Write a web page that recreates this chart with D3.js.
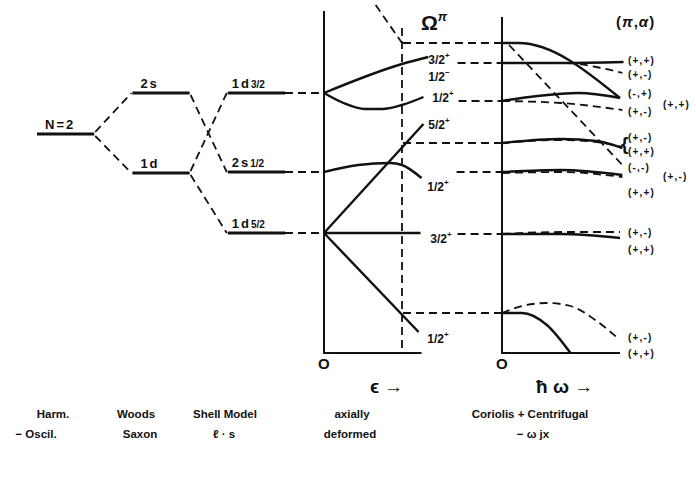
<!DOCTYPE html>
<html lang="en">
<head>
<meta charset="UTF-8">
<title>Nilsson + cranking levels, N=2</title>
<script src="https://d3js.org/d3.v7.min.js"></script>
<style>
  body { margin: 0; background: #fff; }
  svg { display: block; }
  text { font-family: "Liberation Sans", Arial, sans-serif; font-weight: bold; fill: #111; }
  .level { stroke: #111; stroke-width: 3; }
  .axis { stroke: #111; stroke-width: 2; fill: none; }
  .dash { stroke: #111; stroke-width: 1.8; stroke-dasharray: 8,5; fill: none; }
  .curve { stroke: #111; stroke-width: 2.4; fill: none; }
</style>
</head>
<body>
<svg id="chart" width="696" height="478"></svg>
<script>
// energies in arbitrary units (0 = bottom of the diagram)
const stages = ["ho", "ws", "ls"];
const shellLevels = [
  { stage: "ho", name: "N=2", sub: "", E: 21.9 },
  { stage: "ws", name: "2s", sub: "", E: 26.0 },
  { stage: "ws", name: "1d", sub: "", E: 18.0 },
  { stage: "ls", name: "1d", sub: "3/2", E: 26.0 },
  { stage: "ls", name: "2s", sub: "1/2", E: 18.1 },
  { stage: "ls", name: "1d", sub: "5/2", E: 12.0 }
];
// dashed links between levels [from, to]
const shellLinks = [[0, 1], [0, 2], [1, 4], [2, 3], [2, 5]];

// Nilsson levels vs deformation eps
const nilsson = [
  { omega: "3/2", parity: "+", pts: [[0, 26.0], [0.8, 28.9], [1.07, 29.6]] },
  { omega: "1/2", parity: "+", pts: [[0, 26.0], [0.2, 25.0], [0.42, 24.4], [0.6, 24.4], [0.8, 24.8], [1.02, 25.6]] },
  { omega: "1/2", parity: "+", pts: [[0, 18.1], [0.35, 18.8], [0.68, 19.0], [0.8, 18.8], [1.0, 17.5]] },
  { omega: "5/2", parity: "+", pts: [[0, 12.0], [1.02, 22.9]] },
  { omega: "3/2", parity: "+", pts: [[0, 12.0], [0.99, 12.0]] },
  { omega: "1/2", parity: "+", pts: [[0, 12.0], [0.97, 2.1]] }
];
// intruder 1/2- from above (dashed)
const intruder = [[0.53, 34.8], [0.8, 31.0]];
const epsChosen = 0.8;

// labels next to the Nilsson curves
const nilssonLabels = [
  { omega: "3/2", parity: "+", eps: 1.07, E: 29.4 },
  { omega: "1/2", parity: "−", eps: 1.07, E: 27.7 },
  { omega: "1/2", parity: "+", eps: 1.11, E: 25.6 },
  { omega: "5/2", parity: "+", eps: 1.07, E: 22.9 },
  { omega: "1/2", parity: "+", eps: 1.06, E: 16.7 },
  { omega: "3/2", parity: "+", eps: 1.09, E: 11.5 },
  { omega: "1/2", parity: "+", eps: 1.06, E: 1.5 }
];
// dashed connectors at eps = 0.8 into the cranking panel [E, start eps]
const connectors = [[31.0, 0.81], [29.0, 1.37], [25.2, 1.38], [21.0, 0.81], [18.1, 1.36], [11.9, 1.37], [4.0, 0.81]];

// cranking levels vs rotational frequency (alpha = + solid, alpha = - dashed)
const cranking = [
  { dashed: false, pts: [[0, 31.0], [0.14, 31.0], [1.0, 25.5]] },
  { dashed: true, pts: [[0.06, 30.8], [1.02, 18.8]] },
  { dashed: false, pts: [[0, 29.0], [0.5, 29.0], [1.03, 29.1]] },
  { dashed: true, pts: [[0, 29.0], [0.55, 29.0], [0.8, 28.6], [1.02, 28.0]] },
  { dashed: false, pts: [[0, 25.2], [0.3, 25.7], [0.65, 26.0], [1.0, 25.5]] },
  { dashed: true, pts: [[0, 25.2], [0.5, 25.0], [1.02, 24.3]] },
  { dashed: false, pts: [[0, 21.0], [0.5, 21.4], [0.8, 21.2], [1.02, 20.5]] },
  { dashed: true, pts: [[0, 21.0], [0.5, 21.3], [0.8, 21.1], [1.02, 20.6]] },
  { dashed: false, pts: [[0, 18.1], [0.5, 18.3], [1.02, 17.8]] },
  { dashed: true, pts: [[0, 18.0], [0.5, 18.1], [1.02, 17.6]] },
  { dashed: false, pts: [[0, 11.9], [0.5, 11.9], [1.0, 11.5]] },
  { dashed: true, pts: [[0, 11.9], [0.5, 12.1], [1.0, 12.1]] },
  { dashed: false, pts: [[0, 4.0], [0.17, 4.0], [0.38, 2.8], [0.58, 0.0]] },
  { dashed: true, pts: [[0, 4.0], [0.17, 4.7], [0.38, 5.0], [0.58, 4.7], [0.79, 3.3], [0.98, 1.5]] }
];
// (pi, alpha) labels: [text, E, column]
const crankLabels = [
  ["(+,+)", 29.3, 0], ["(+,-)", 27.9, 0], ["(-,+)", 26.0, 0], ["(+,-)", 24.2, 0], ["(+,+)", 24.9, 1],
  ["(+,-)", 21.6, 0], ["(+,+)", 20.2, 0], ["(-,-)", 18.6, 0], ["(+,-)", 17.7, 1], ["(+,+)", 16.1, 0],
  ["(+,-)", 12.1, 0], ["(+,+)", 10.4, 0], ["(+,-)", 1.6, 0], ["(+,+)", 0.0, 0]
];
const captionTop = ["Harm.", "Woods", "Shell Model", "axially", "Coriolis + Centrifugal"];
const captionBottom = ["− Oscil.", "Saxon", "ℓ · s", "deformed", "− ω jx"];

const svg = d3.select("#chart");
const y = d3.scaleLinear().domain([0, 31]).range([353, 43]);
const xStage = d3.scaleBand().domain(stages).range([37, 285]).paddingInner(0.4);
const xEps = d3.scaleLinear().domain([0, 1]).range([324, 421.5]);
const xRot = d3.scaleLinear().domain([0, 1]).range([502, 620]);

// ---- spherical part ----
shellLevels.forEach(l => {
  const x0 = xStage(l.stage), x1 = x0 + xStage.bandwidth();
  svg.append("line").attr("class", "level")
    .attr("x1", x0).attr("x2", x1).attr("y1", y(l.E)).attr("y2", y(l.E));
  const t = svg.append("text").attr("x", x0 + (l.stage === "ls" ? 4 : 8)).attr("y", y(l.E) - 5)
    .attr("font-size", 13).attr("letter-spacing", 2).text(l.name);
  if (l.sub) t.append("tspan").attr("font-size", 10).attr("letter-spacing", 0).text(l.sub);
});
shellLinks.forEach(([a, b]) => {
  const la = shellLevels[a], lb = shellLevels[b];
  svg.append("line").attr("class", "dash")
    .attr("x1", xStage(la.stage) + xStage.bandwidth() + 1).attr("y1", y(la.E) + (lb.E > la.E ? -2 : 2))
    .attr("x2", xStage(lb.stage) - 1).attr("y2", y(lb.E));
});
shellLevels.filter(l => l.stage === "ls").forEach(l => {
  svg.append("line").attr("class", "dash")
    .attr("x1", xStage("ls") + xStage.bandwidth()).attr("x2", xEps(0))
    .attr("y1", y(l.E)).attr("y2", y(l.E));
});

// ---- deformed part ----
svg.append("path").attr("class", "axis")
  .attr("d", `M${xEps(0)},${y(34.2)}V${y(0)}H${xEps(1)}`);
svg.append("line").attr("class", "dash")
  .attr("x1", xEps(epsChosen)).attr("x2", xEps(epsChosen)).attr("y1", y(32.5)).attr("y2", y(0));
svg.append("line").attr("class", "dash")
  .attr("x1", xEps(intruder[0][0])).attr("y1", y(intruder[0][1]))
  .attr("x2", xEps(intruder[1][0])).attr("y2", y(intruder[1][1]));

const lineEps = d3.line().x(d => xEps(d[0])).y(d => y(d[1])).curve(d3.curveMonotoneX);
svg.selectAll(".nil").data(nilsson).join("path")
  .attr("class", "curve nil").attr("d", d => lineEps(d.pts));

nilssonLabels.forEach(l => {
  const t = svg.append("text").attr("x", xEps(l.eps)).attr("y", y(l.E) + 5).attr("font-size", 12);
  t.append("tspan").text(l.omega);
  t.append("tspan").attr("font-size", 8).attr("dy", -6).text(l.parity);
});

connectors.forEach(([E, e0]) => {
  svg.append("line").attr("class", "dash")
    .attr("x1", xEps(e0)).attr("x2", xRot(0)).attr("y1", y(E)).attr("y2", y(E));
});

svg.append("text").attr("x", xEps(0) - 6).attr("y", 369).attr("font-size", 15).attr("font-weight", "normal").text("O");
svg.append("text").attr("x", 370).attr("y", 393).attr("font-size", 19).attr("font-weight", "normal").text("ϵ →");
const om = svg.append("text").attr("x", 421).attr("y", 30).attr("font-size", 21).attr("font-weight", "normal");
om.append("tspan").text("Ω");
om.append("tspan").attr("font-size", 13).attr("dy", -9).attr("font-style", "italic").text("π");

// ---- rotating part ----
svg.append("path").attr("class", "axis")
  .attr("d", `M${xRot(0)},${y(33.6)}V${y(0)}H${xRot(1)}`);
const lineRot = d3.line().x(d => xRot(d[0])).y(d => y(d[1])).curve(d3.curveMonotoneX);
svg.selectAll(".crk").data(cranking).join("path")
  .attr("class", d => d.dashed ? "dash crk" : "curve crk")
  .attr("stroke-width", d => d.dashed ? 2.2 : 2.4)
  .attr("d", d => lineRot(d.pts));

svg.selectAll(".clab").data(crankLabels).join("text")
  .attr("class", "clab")
  .attr("x", d => d[2] ? 663 : 628)
  .attr("y", d => y(d[1]) + 4)
  .attr("font-size", 10).attr("letter-spacing", 1.2)
  .text(d => d[0]);
svg.append("text").attr("x", 621).attr("y", y(20.9) + 6).attr("font-size", 19).attr("font-weight", "normal").text("{");

const pa = svg.append("text").attr("x", 616).attr("y", 27).attr("font-size", 15).attr("letter-spacing", 1);
pa.append("tspan").text("(");
pa.append("tspan").attr("font-style", "italic").text("π");
pa.append("tspan").text(",");
pa.append("tspan").attr("font-style", "italic").text("α");
pa.append("tspan").text(")");

svg.append("text").attr("x", xRot(0) - 6).attr("y", 369).attr("font-size", 15).attr("font-weight", "normal").text("O");
svg.append("text").attr("x", 536).attr("y", 393).attr("font-size", 19).attr("font-weight", "normal").text("ħ ω →");

// ---- bottom captions ----
const captionX = [[53, 36], [136, 140], [225, 224], [352, 350], [530, 533]];
captionTop.forEach((c, i) => {
  svg.append("text").attr("x", captionX[i][0]).attr("y", 418).attr("text-anchor", "middle").attr("font-size", 11.5).text(c);
  svg.append("text").attr("x", captionX[i][1]).attr("y", 438).attr("text-anchor", "middle").attr("font-size", 11.5).text(captionBottom[i]);
});
</script>
</body>
</html>
